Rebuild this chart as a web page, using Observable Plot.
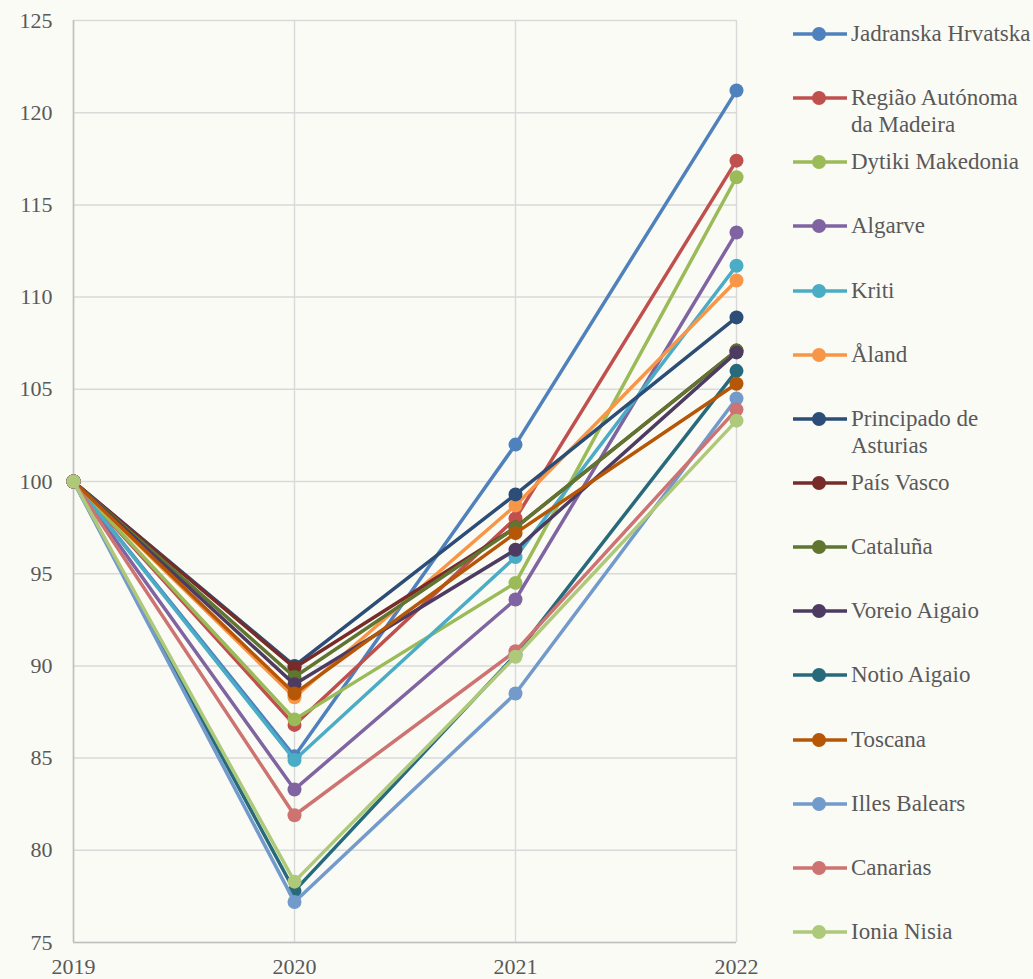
<!DOCTYPE html>
<html><head><meta charset="utf-8">
<script src="https://cdn.jsdelivr.net/npm/d3@7"></script>
<script src="https://cdn.jsdelivr.net/npm/@observablehq/plot@0.6"></script>
<style>
html,body{margin:0;padding:0;background:#fbfbf6;overflow:hidden}
#wrap{position:relative;width:1033px;height:979px;font-family:"Liberation Serif",serif}
.item{position:absolute;left:790px;font-size:23px;color:#595959;line-height:27px;white-space:nowrap}
.item svg{position:absolute;left:0;top:0}
.item span{position:absolute;left:61px;top:0}
</style></head><body><div id="wrap"></div>
<script>
const years = [2019, 2020, 2021, 2022];
const regions = ["Jadranska Hrvatska","Região Autónoma da Madeira","Dytiki Makedonia","Algarve","Kriti","Åland","Principado de Asturias","País Vasco","Cataluña","Voreio Aigaio","Notio Aigaio","Toscana","Illes Balears","Canarias","Ionia Nisia"];
const legendLabels = ["Jadranska Hrvatska","Região Autónoma<br>da Madeira","Dytiki Makedonia","Algarve","Kriti","Åland","Principado de<br>Asturias","País Vasco","Cataluña","Voreio Aigaio","Notio Aigaio","Toscana","Illes Balears","Canarias","Ionia Nisia"];
const colors = ["#4F81BD","#C0504D","#9BBB59","#8064A2","#4BACC6","#F79646","#2C4D75","#772C2A","#5F7530","#4D3B62","#276A7C","#B65708","#729ACA","#CD7371","#AFC97A"];
const v2019 = [100,100,100,100,100,100,100,100,100,100,100,100,100,100,100];
const v2020 = [85.1,86.8,87.1,83.3,84.9,88.3,90.0,89.9,89.4,89.0,77.8,88.5,77.2,81.9,78.3];
const v2021 = [102.0,98.0,94.5,93.6,95.9,98.7,99.3,97.5,97.5,96.3,90.6,97.2,88.5,90.8,90.5];
const v2022 = [121.2,117.4,116.5,113.5,111.7,110.9,108.9,107.1,107.1,107.0,106.0,105.3,104.5,103.9,103.3];
const yTicks = [75,80,85,90,95,100,105,110,115,120,125];

const series = [v2019, v2020, v2021, v2022];
const data = regions.map((r, i) => years.map((yr, j) => ({region: r, year: yr, value: series[j][i]})));

const marks = [
  Plot.ruleY(yTicks, {stroke: "#d9d9d9", strokeWidth: 1.5}),
  Plot.ruleX(years, {stroke: "#d9d9d9", strokeWidth: 1.5}),
  Plot.ruleX([2019], {stroke: "#bfbfbf", strokeWidth: 1.5}),
  Plot.ruleY([75], {stroke: "#bfbfbf", strokeWidth: 1.5})
];
data.forEach((d, i) => {
  marks.push(Plot.line(d, {x: "year", y: "value", stroke: colors[i], strokeWidth: 3.5}));
  marks.push(Plot.dot(d, {x: "year", y: "value", fill: colors[i], r: 7}));
});

const chart = Plot.plot({
  width: 1033, height: 979,
  marginLeft: 73, marginRight: 297, marginTop: 20, marginBottom: 37,
  style: {fontFamily: '"Liberation Serif", serif', fontSize: "22px", color: "#595959", background: "#fbfbf6", overflow: "visible"},
  x: {type: "linear", domain: [2019, 2022], ticks: years, tickFormat: "d", tickSize: 0, tickPadding: 16, label: null},
  y: {domain: [75, 125], ticks: yTicks, tickSize: 0, tickPadding: 21, label: null},
  marks
});
const wrap = document.getElementById("wrap");
wrap.appendChild(chart);

regions.forEach((r, i) => {
  const cy = 34 + i * 64.14;
  const div = document.createElement("div");
  div.className = "item";
  div.style.top = (cy - 14) + "px";
  div.innerHTML = `<svg width="60" height="28"><line x1="3" x2="57" y1="14" y2="14" stroke="${colors[i]}" stroke-width="3.5"/><circle cx="29" cy="14" r="7" fill="${colors[i]}"/></svg><span>${legendLabels[i]}</span>`;
  wrap.appendChild(div);
});
</script></body></html>
